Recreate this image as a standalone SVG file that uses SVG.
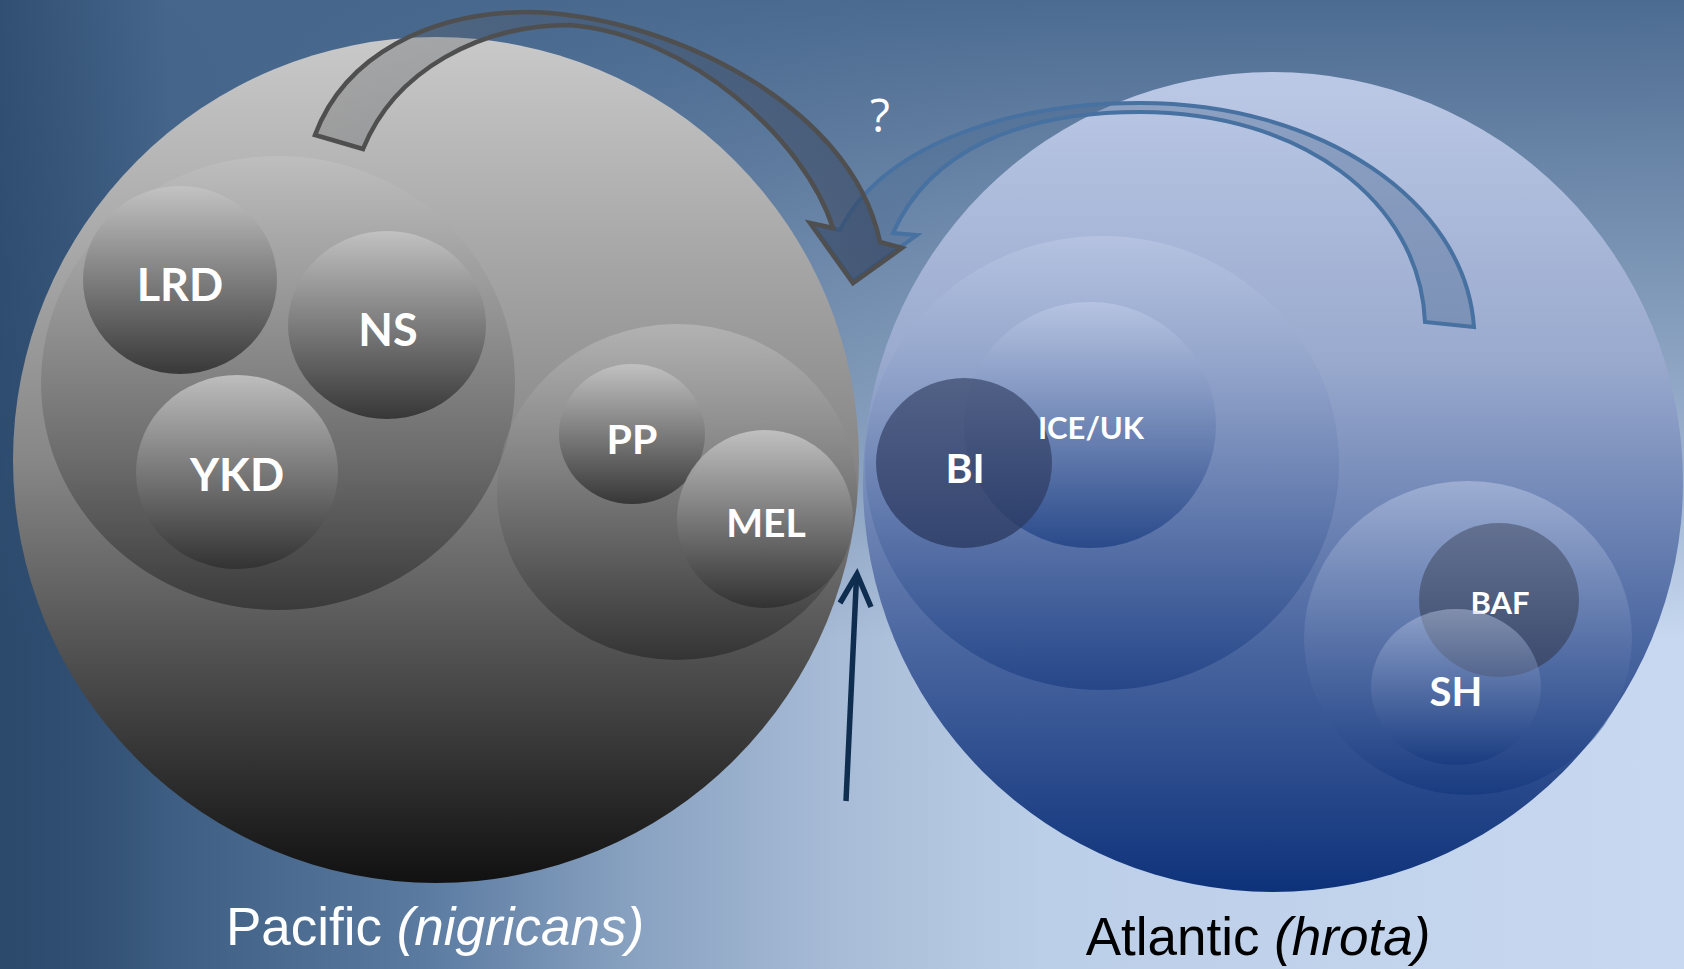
<svg xmlns="http://www.w3.org/2000/svg" width="1684" height="969" viewBox="0 0 1684 969">
<defs>
<linearGradient id="bgH" x1="0" y1="0" x2="1" y2="0">
<stop offset="0" stop-color="#2c4a6c"/><stop offset="0.1" stop-color="#3d5d82"/><stop offset="0.25" stop-color="#5a7aa0"/><stop offset="0.38" stop-color="#8aa3c2"/><stop offset="0.5" stop-color="#a8bcd7"/><stop offset="0.62" stop-color="#bccfe8"/><stop offset="1" stop-color="#c8d8f0"/>
</linearGradient>
<linearGradient id="bgV" x1="0" y1="0" x2="0" y2="1">
<stop offset="0" stop-color="#46668c" stop-opacity="0.95"/><stop offset="0.3" stop-color="#46668c" stop-opacity="0.55"/><stop offset="0.5" stop-color="#46668c" stop-opacity="0.3"/><stop offset="0.66" stop-color="#46668c" stop-opacity="0"/>
</linearGradient>
<linearGradient id="bgL" x1="0" y1="0" x2="1" y2="0">
<stop offset="0" stop-color="#2c4a6c" stop-opacity="0.8"/><stop offset="0.1" stop-color="#2c4a6c" stop-opacity="0"/>
</linearGradient>
<linearGradient id="gBig" x1="0" y1="0" x2="0" y2="1">
<stop offset="0" stop-color="#c9c9c9"/><stop offset="0.5" stop-color="#878787"/><stop offset="1" stop-color="#111111"/>
</linearGradient>
<linearGradient id="gMid" x1="0" y1="0" x2="0" y2="1">
<stop offset="0" stop-color="#c4c4c4"/><stop offset="1" stop-color="#1e1e1e"/>
</linearGradient>
<linearGradient id="gSmall" x1="0" y1="0" x2="0" y2="1">
<stop offset="0" stop-color="#c4c4c4"/><stop offset="1" stop-color="#303030"/>
</linearGradient>
<linearGradient id="bBig" x1="0" y1="0" x2="0" y2="1">
<stop offset="0" stop-color="#bcc9e6"/><stop offset="0.35" stop-color="#9aaace"/><stop offset="0.7" stop-color="#4a66a0"/><stop offset="1" stop-color="#0e327a"/>
</linearGradient>
<linearGradient id="bMid" x1="0" y1="0" x2="0" y2="1">
<stop offset="0" stop-color="#c2cee9"/><stop offset="1" stop-color="#0c3078"/>
</linearGradient>
<linearGradient id="bDark" x1="0" y1="0" x2="0" y2="1">
<stop offset="0" stop-color="#3e4c70"/><stop offset="1" stop-color="#28365e"/>
</linearGradient>
<linearGradient id="bSlate" x1="0" y1="0" x2="0" y2="1">
<stop offset="0" stop-color="#5a6684"/><stop offset="1" stop-color="#36425f"/>
</linearGradient>
<linearGradient id="grayArrow" gradientUnits="userSpaceOnUse" x1="300" y1="100" x2="880" y2="250">
<stop offset="0" stop-color="#6a6a6a" stop-opacity="0.35"/><stop offset="0.5" stop-color="#404858" stop-opacity="0.3"/><stop offset="1" stop-color="#2e3c55" stop-opacity="0.55"/>
</linearGradient>
<style>
.lbl{font-family:Lato,"Open Sans","Liberation Sans",sans-serif;font-weight:bold;fill:#ffffff;text-anchor:middle}
.cap{font-family:"Liberation Sans",Arial,sans-serif;font-size:53px;text-anchor:middle}
</style>
</defs>
<g id="background">
<rect width="1684" height="969" fill="url(#bgH)"/>
<rect width="1684" height="969" fill="url(#bgV)"/>
<rect width="1684" height="969" fill="url(#bgL)"/>
</g>
<g id="pacific">
<circle cx="436" cy="460" r="423" fill="url(#gBig)"/>
<g id="pacific-group1">
<ellipse cx="278" cy="383" rx="237" ry="227" fill="url(#gMid)" opacity="0.55"/>
<g id="node-LRD"><ellipse cx="180" cy="280" rx="97" ry="94" fill="url(#gSmall)" opacity="0.9"/><text class="lbl" x="180" y="301" font-size="45">LRD</text></g>
<g id="node-NS"><ellipse cx="387" cy="325" rx="99" ry="94" fill="url(#gSmall)" opacity="0.9"/><text class="lbl" x="388" y="346" font-size="45">NS</text></g>
<g id="node-YKD"><ellipse cx="237" cy="472" rx="101" ry="97" fill="url(#gSmall)" opacity="0.9"/><text class="lbl" x="237" y="491" font-size="45">YKD</text></g>
</g>
<g id="pacific-group2">
<ellipse cx="677" cy="492" rx="180" ry="168" fill="url(#gMid)" opacity="0.55"/>
<g id="node-PP"><ellipse cx="632" cy="434" rx="73" ry="70" fill="url(#gSmall)" opacity="0.9"/><text class="lbl" x="632" y="454" font-size="41">PP</text></g>
<g id="node-MEL"><ellipse cx="765" cy="519" rx="88" ry="89" fill="url(#gSmall)" opacity="0.92"/><text class="lbl" x="766" y="537" font-size="39">MEL</text></g>
</g>
</g>
<g id="atlantic">
<circle cx="1273" cy="482" r="410" fill="url(#bBig)"/>
<g id="atlantic-group1">
<ellipse cx="1102" cy="463" rx="237" ry="227" fill="url(#bMid)" opacity="0.5"/>
<g id="node-ICEUK"><ellipse cx="1090" cy="425" rx="126" ry="123" fill="url(#bMid)" opacity="0.6"/></g>
<g id="node-BI"><ellipse cx="964" cy="463" rx="88" ry="85" fill="url(#bDark)" opacity="0.75"/></g>
<text class="lbl" x="1091" y="439" font-size="31">ICE/UK</text>
<text class="lbl" x="965" y="483" font-size="41">BI</text>
</g>
<g id="atlantic-group2">
<ellipse cx="1468" cy="638" rx="164" ry="157" fill="url(#bMid)" opacity="0.5"/>
<g id="node-BAF"><ellipse cx="1499" cy="600" rx="80" ry="77" fill="url(#bSlate)" opacity="0.8"/><text class="lbl" x="1500" y="614" font-size="31">BAF</text></g>
<g id="node-SH"><ellipse cx="1456" cy="687" rx="85" ry="78" fill="url(#bMid)" opacity="0.45"/><text class="lbl" x="1456" y="706" font-size="40">SH</text></g>
</g>
</g>
<g id="connectors">
<path id="arrow-atlantic" d="M 1474,327 C 1465,200 1320,103 1140,103 C 1000,103 880,150 840,230 L 812,224 L 853,281 L 917,235 L 893,233 C 930,150 1020,112 1140,112 C 1300,112 1420,200 1425,322 Z" fill="#4a6890" fill-opacity="0.4" stroke="#4671a1" stroke-width="4" stroke-linejoin="miter"/>
<path id="arrow-pacific" d="M 315,135 C 345,55 430,12 530,12 C 660,15 850,100 880,242 L 902,248 L 853,283 L 810,223 L 833,228 C 805,140 690,35 570,25 C 480,25 395,70 363,149 Z" fill="url(#grayArrow)" stroke="#4f4f4f" stroke-width="4.5" stroke-linejoin="miter"/>
<g id="arrow-up" fill="none" stroke="#0f2d4f" stroke-width="5.5" stroke-linecap="butt">
<line x1="846" y1="801" x2="856.5" y2="577"/>
<polyline points="840,603 857,574 871,607" stroke-linejoin="miter"/>
</g>
</g>
<text x="880" y="132" font-family="'Open Sans','Liberation Sans',sans-serif" font-size="46" fill="#ffffff" text-anchor="middle">?</text>
<text class="cap" x="435" y="945" fill="#ffffff">Pacific <tspan font-style="italic">(nigricans)</tspan></text>
<text class="cap" x="1258" y="955" fill="#000000">Atlantic <tspan font-style="italic">(hrota)</tspan></text>
</svg>
